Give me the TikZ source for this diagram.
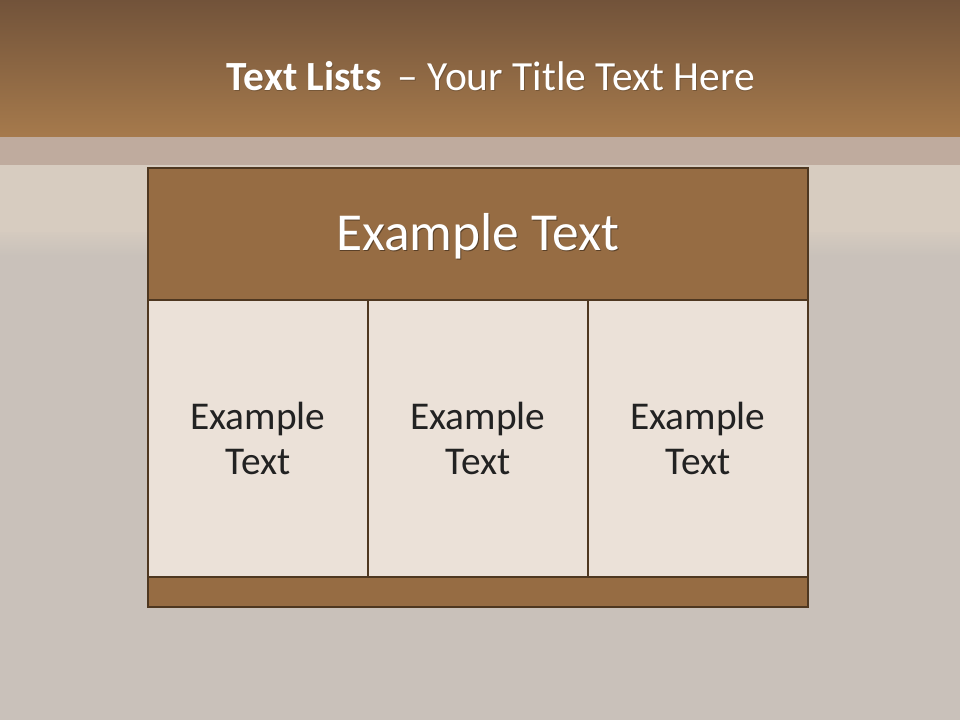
\documentclass[tikz,border=0pt]{standalone}
\usepackage{fontspec}
\setmainfont{Carlito}
\usepackage{xcolor}
\usetikzlibrary{positioning}

\definecolor{barTop}{HTML}{72533A}
\definecolor{barBot}{HTML}{A67A4C}
\definecolor{stripe}{HTML}{BFAB9E}
\definecolor{plank}{HTML}{D7CCC0}
\definecolor{wood}{HTML}{C9C1BA}
\definecolor{boxBrown}{HTML}{966C43}
\definecolor{cellFill}{HTML}{EBE1D8}
\definecolor{edge}{HTML}{4E3720}
\definecolor{inkDark}{HTML}{222222}

\begin{document}
\begin{tikzpicture}[ header/.style={draw=edge, fill=boxBrown, line width=1.8pt, outer sep=0pt, minimum width=16.5cm, minimum height=3.3cm},
			cell/.style={draw=edge, fill=cellFill, line width=1.8pt, outer sep=0pt, minimum width=5.5cm, minimum height=6.925cm, align=center, text=inkDark, font=\fontsize{28}{32}\selectfont},
			footer/.style={draw=edge, fill=boxBrown, line width=1.8pt, outer sep=0pt, minimum width=16.5cm, minimum height=0.75cm},
			shadowtext/.style={text=black, opacity=0.4}
			]
			% background
			\useasboundingbox (0,0) rectangle (24,18);
			\fill[wood] (0,0) rectangle (24,12.2);
			\shade[top color=plank!85!wood, bottom color=wood] (0,12.2) rectangle (24,11.6);
			\fill[plank] (0,12.2) rectangle (24,13.88);
			\fill[stripe] (0,13.88) rectangle (24,14.58);
			\shade[top color=barTop, bottom color=barBot] (0,18) rectangle (24,14.58);
			% title
			\node[shadowtext, opacity=0.2, font=\fontsize{29.5}{32}\selectfont] at (12.29,16.08) {\textbf{Text Lists}\, -- Your Title Text Here};
			\node (title) [text=white, font=\fontsize{29.5}{32}\selectfont] at (12.27,16.1) {\textbf{Text Lists}\, -- Your Title Text Here};
			% table
			\node [header](head) at (11.95,12.15) {};
			\node [shadowtext, font=\fontsize{38}{42}\selectfont] at (11.97,12.08) {Example Text};
			\node [text=white, font=\fontsize{38}{42}\selectfont] at (11.95,12.1) {Example Text};
			\node [cell](c2) [below=0pt of head] {Example\\Text};
			\node [cell](c1) [left=0pt of c2] {Example\\Text};
			\node [cell](c3) [right=0pt of c2] {Example\\Text};
			\node [footer](foot) [below=0pt of c2] {};
		\end{tikzpicture}
\end{document}
